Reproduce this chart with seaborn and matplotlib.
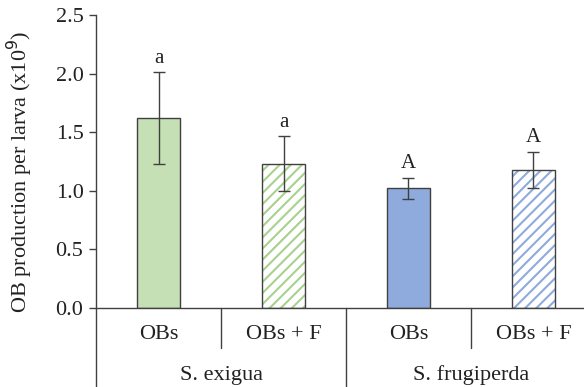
import matplotlib
matplotlib.use("Agg")
import matplotlib.pyplot as plt
import matplotlib.transforms as mtransforms
from matplotlib.patches import Rectangle
import seaborn as sns
import pandas as pd

# ---- data ----
species = ["S. exigua", "S. exigua", "S. frugiperda", "S. frugiperda"]
treatments = ["OBs", "OBs + F", "OBs", "OBs + F"]
means = [1.62, 1.23, 1.02, 1.18]
errors = [0.39, 0.235, 0.09, 0.155]
letters = ["a", "a", "A", "A"]
group_labels = ["S. exigua", "S. frugiperda"]
fill_colors = ["#c5e0b4", "#ffffff", "#8faadc", "#ffffff"]
hatch_colors = [None, "#a9d18e", None, "#8faadc"]

sns.set_theme(style="white")
plt.rcParams["font.family"] = ["Liberation Serif", "DejaVu Serif"]
plt.rcParams["hatch.linewidth"] = 1.5

FS = 16

df = pd.DataFrame({"key": [f"{s}|{t}|{i}" for i, (s, t) in enumerate(zip(species, treatments))],
                   "value": means})

fig = plt.figure(figsize=(5.84, 3.87), dpi=100)
ax = fig.add_axes([96 / 584, 79 / 387, 500 / 584, 293 / 387])

sns.barplot(data=df, x="key", y="value", hue="key", palette=fill_colors,
            width=0.345, ax=ax, legend=False, saturation=1,
            edgecolor="#404040", linewidth=1.0, errorbar=None)

edge = "#404040"
for i, p in enumerate(ax.patches):
    if hatch_colors[i] is not None:
        p.set_hatch("///")
        p.set_edgecolor(hatch_colors[i])
        p.set_linewidth(0)
        ax.add_patch(Rectangle((p.get_x(), p.get_y()), p.get_width(), p.get_height(),
                               fill=False, edgecolor=edge, linewidth=1.0, zorder=p.get_zorder() + 0.1))

xs = list(range(len(means)))
ax.errorbar(xs, means, yerr=errors, fmt="none", ecolor="#404040", elinewidth=1.0,
            capsize=4, capthick=1.0, zorder=5)
for x, m, e, l in zip(xs, means, errors, letters):
    ax.text(x, m + e + 0.04, l, ha="center", va="bottom", fontsize=FS - 1, color="#222222")

ax.set_xlim(-0.5, 3.5)
ax.set_ylim(0, 2.5)
ax.set_yticks([0, 0.5, 1.0, 1.5, 2.0, 2.5])
ax.set_yticklabels(["0.0", "0.5", "1.0", "1.5", "2.0", "2.5"])
ax.set_xticks([])
ax.set_xlabel("")
ax.set_ylabel("OB production per larva (x10$^{9}$)", fontsize=FS, color="#222222")
ax.yaxis.set_label_coords(-0.122, 0.464)
ax.tick_params(axis="y", which="both", left=True, direction="out", length=5,
               width=1, color="#404040", labelsize=FS, pad=4, labelcolor="#222222")
for s in ["top", "right"]:
    ax.spines[s].set_visible(False)
for s in ["left", "bottom"]:
    ax.spines[s].set_color("#404040")
    ax.spines[s].set_linewidth(1.0)

trans = mtransforms.blended_transform_factory(ax.transData, ax.transAxes)
line_kw = dict(color="#404040", linewidth=1.0, clip_on=False, transform=trans)
bottom = -0.28
# left spine extension
ax.plot([-0.5, -0.5], [0, bottom], **line_kw)
# separators between treatments
ax.plot([0.5, 0.5], [0, -0.135], **line_kw)
ax.plot([2.5, 2.5], [0, -0.135], **line_kw)
# separator between species
ax.plot([1.5, 1.5], [0, bottom], **line_kw)

for x, t in zip(xs, treatments):
    ax.text(x, -0.092, t, ha="center", va="center", fontsize=FS, transform=trans, color="#222222")
for gx, g in zip([0.5, 2.5], group_labels):
    ax.text(gx, -0.229, g, ha="center", va="center", fontsize=FS, transform=trans, color="#222222")

fig.savefig("out.png", dpi=100)
